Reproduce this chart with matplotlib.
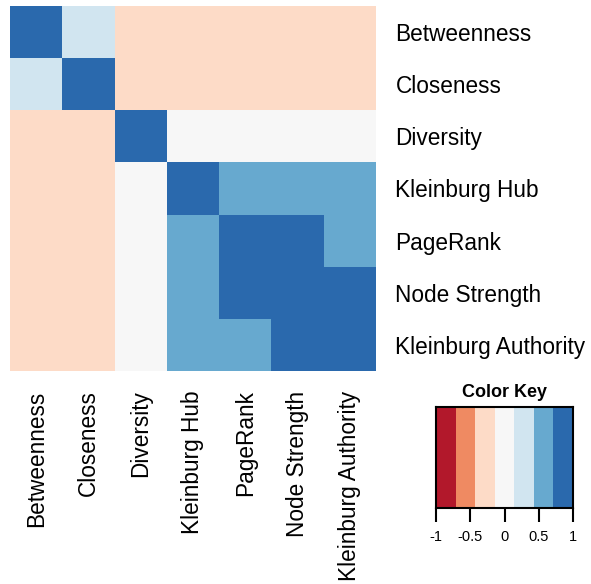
import numpy as np
import matplotlib
matplotlib.use("Agg")
import matplotlib.pyplot as plt
from matplotlib.colors import ListedColormap, BoundaryNorm

plt.rcParams['font.family'] = ['Liberation Sans', 'DejaVu Sans']

labels = ["Betweenness", "Closeness", "Diversity", "Kleinburg Hub",
          "PageRank", "Node Strength", "Kleinburg Authority"]

# correlation matrix (rows top to bottom, columns left to right)
corr = np.array([
    [1.00, 0.30, -0.25, -0.25, -0.25, -0.25, -0.25],
    [0.30, 1.00, -0.25, -0.25, -0.25, -0.25, -0.25],
    [-0.25, -0.25, 1.00, 0.00, 0.00, 0.00, 0.00],
    [-0.25, -0.25, 0.00, 1.00, 0.55, 0.55, 0.55],
    [-0.25, -0.25, 0.00, 0.55, 1.00, 0.90, 0.60],
    [-0.25, -0.25, 0.00, 0.55, 0.90, 1.00, 0.85],
    [-0.25, -0.25, 0.00, 0.55, 0.60, 0.85, 1.00],
])

key_ticks = [-1, -0.5, 0, 0.5, 1]
key_ticklabels = ["-1", "-0.5", "0", "0.5", "1"]

colors = ["#B2182B", "#EF8A62", "#FDDBC7", "#F7F7F7", "#D1E5F0", "#67A9CF", "#2A69AD"]
cmap = ListedColormap(colors)
bounds = np.linspace(-1, 1, len(colors) + 1)
norm = BoundaryNorm(bounds, cmap.N)

W, H = 591, 584
fig = plt.figure(figsize=(W / 100, H / 100), dpi=100)

# heatmap axes: x 10-376, y 6-371
ax = fig.add_axes([10 / W, 1 - 371 / H, 366 / W, 365 / H])
n = len(labels)
ax.pcolormesh(np.arange(n + 1), np.arange(n + 1), corr, cmap=cmap, norm=norm)
ax.set_xlim(0, n)
ax.set_ylim(n, 0)
for s in ax.spines.values():
    s.set_visible(False)
ax.set_xticks(np.arange(n) + 0.5)
ax.set_xticklabels(labels, rotation=90, fontsize=16.3, va='top', ha='center')
ax.set_yticks(np.arange(n) + 0.5)
ax.set_yticklabels(labels, fontsize=16.3)
ax.yaxis.tick_right()
ax.tick_params(axis='both', length=0)
ax.tick_params(axis='x', pad=14)
ax.tick_params(axis='y', pad=14)

# color key: x 436-573, y 407-508
kx = fig.add_axes([436 / W, 1 - 508 / H, 137 / W, 101 / H])
kx.pcolormesh(bounds, [0, 1], np.array([(bounds[:-1] + bounds[1:]) / 2]), cmap=cmap, norm=norm)
kx.set_xlim(-1, 1)
kx.set_ylim(0, 1)
kx.set_yticks([])
kx.set_xticks(key_ticks)
kx.set_xticklabels(key_ticklabels, fontsize=10.5)
kx.tick_params(axis='x', length=10, width=1.5, pad=6)
for s in kx.spines.values():
    s.set_linewidth(1.5)
kx.set_title("Color Key", fontsize=13, fontweight='bold', pad=7)

fig.savefig("out.png", dpi=100)
